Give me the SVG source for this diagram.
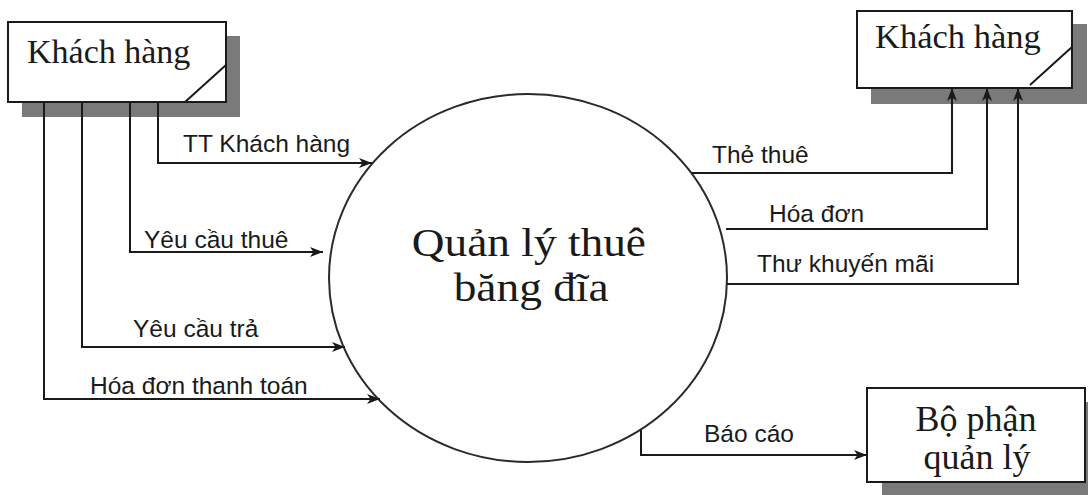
<svg xmlns="http://www.w3.org/2000/svg" width="1088" height="495" viewBox="0 0 1088 495">
<defs>
<style>
.box{fill:#fff;stroke:#1a1a1a;stroke-width:2}
.shadow{fill:#7a7a7a;stroke:none}
.serif{font-family:"Liberation Serif","Times New Roman",serif;fill:#1a1a1a}
.lbl{font-family:"Liberation Sans",Arial,sans-serif;font-size:24.5px;fill:#1a1a1a}
.flow{fill:none;stroke:#1a1a1a;stroke-width:2}
</style>
<marker id="arr" markerUnits="userSpaceOnUse" markerWidth="14" markerHeight="12" refX="13" refY="5" orient="auto">
<path d="M0,0 L13,5 L0,10 L3.5,5 z" fill="#1a1a1a"/>
</marker>
</defs>
<rect width="1088" height="495" fill="#fff"/>

<g id="process">
<ellipse cx="528" cy="278" rx="199" ry="184" fill="#fff" stroke="#2a2a2a" stroke-width="2"/>
<g transform="translate(530,0) scale(1.12,1) translate(-530,0)">
<text class="serif" font-size="40.5" text-anchor="middle" x="529" y="256">Quản lý thuê</text>
<text class="serif" font-size="40.5" text-anchor="middle" x="531" y="301">băng đĩa</text>
</g>
</g>

<g id="customer-left">
<rect class="shadow" x="22" y="36" width="218" height="81"/>
<rect class="box" x="8" y="22" width="218" height="80"/>
<line x1="185" y1="102" x2="226" y2="65" stroke="#1a1a1a" stroke-width="2"/>
<text class="serif" font-size="34" x="27" y="63">Khách hàng</text>
</g>

<g id="customer-right">
<rect class="shadow" x="871" y="24" width="216" height="80"/>
<rect class="box" x="857" y="11" width="215" height="77"/>
<line x1="1030" y1="85" x2="1072" y2="47" stroke="#1a1a1a" stroke-width="2"/>
<text class="serif" font-size="34.5" x="875" y="48">Khách hàng</text>
</g>

<g id="management">
<rect class="shadow" x="882" y="402" width="206" height="93"/>
<rect class="box" x="867" y="388" width="218" height="94"/>
<text class="serif" font-size="36" text-anchor="middle" x="976" y="431">Bộ phận</text>
<text class="serif" font-size="36" text-anchor="middle" x="977" y="469">quản lý</text>
</g>

<g id="connectors">
<path class="flow" d="M158,102 V163 H372" marker-end="url(#arr)"/>
<path class="flow" d="M130,102 V252 H323" marker-end="url(#arr)"/>
<path class="flow" d="M82,102 V347 H345" marker-end="url(#arr)"/>
<path class="flow" d="M44,102 V399 H380" marker-end="url(#arr)"/>
<path class="flow" d="M692,173 H952 V88" marker-end="url(#arr)"/>
<path class="flow" d="M726,229 H987 V88" marker-end="url(#arr)"/>
<path class="flow" d="M727,284 H1018 V88" marker-end="url(#arr)"/>
<path class="flow" d="M641,430 V455 H867" marker-end="url(#arr)"/>
</g>

<g id="labels">
<text class="lbl" x="183" y="152">TT Khách hàng</text>
<text class="lbl" x="144" y="248">Yêu cầu thuê</text>
<text class="lbl" x="133" y="337">Yêu cầu trả</text>
<text class="lbl" x="90" y="394">Hóa đơn thanh toán</text>
<text class="lbl" x="712" y="163">Thẻ thuê</text>
<text class="lbl" x="769" y="222">Hóa đơn</text>
<text class="lbl" x="757" y="272">Thư khuyến mãi</text>
<text class="lbl" x="704" y="442">Báo cáo</text>
</g>
</svg>
